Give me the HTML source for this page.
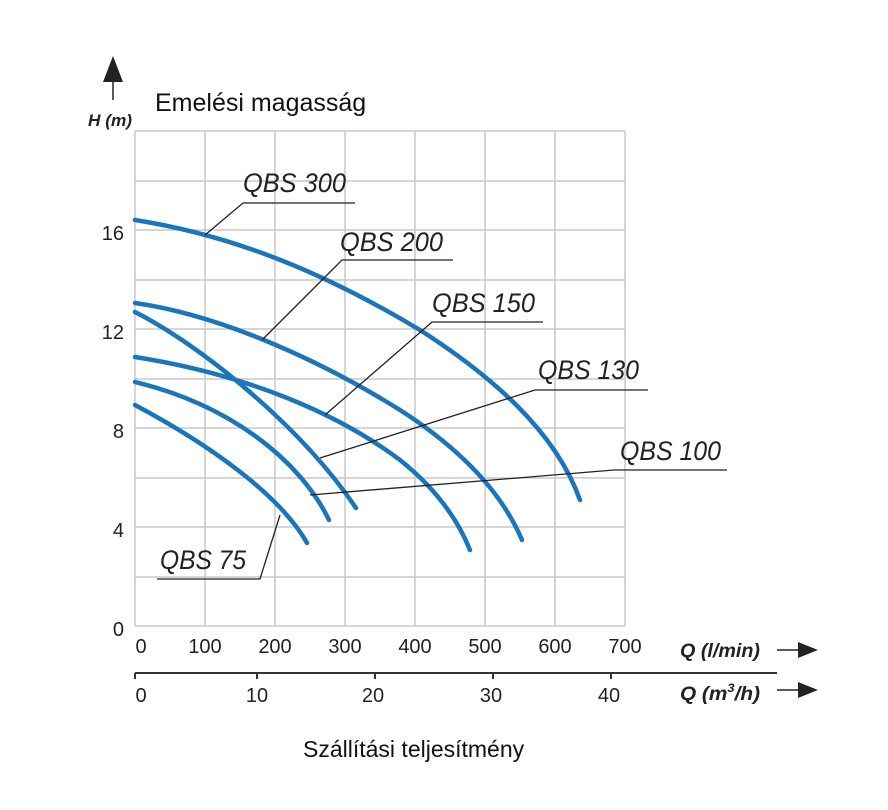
<!DOCTYPE html>
<html><head><meta charset="utf-8"><style>body{margin:0;background:#fff}svg{display:block}</style></head>
<body>
<svg width="888" height="810" viewBox="0 0 888 810" xmlns="http://www.w3.org/2000/svg" font-family="Liberation Sans, sans-serif">
<g stroke="#c8c8c8" stroke-width="1.5" fill="none">
<path d="M135 131V626M205 131V626M275 131V626M345 131V626M415 131V626M485 131V626M555 131V626M625 131V626"/>
<path d="M135 131H625M135 181H625M135 230H625M135 280H625M135 329H625M135 379H625M135 428H625M135 478H625M135 527H625M135 577H625M135 626H625"/>
</g>
<g fill="#222" font-size="20">
<text x="124" y="240" text-anchor="end">16</text>
<text x="124" y="339" text-anchor="end">12</text>
<text x="124" y="438" text-anchor="end">8</text>
<text x="124" y="537" text-anchor="end">4</text>
<text x="124" y="636" text-anchor="end">0</text>
</g>
<g fill="#222" font-size="20" text-anchor="middle">
<text x="141" y="653">0</text><text x="205" y="653">100</text><text x="275" y="653">200</text><text x="345" y="653">300</text><text x="415" y="653">400</text><text x="485" y="653">500</text><text x="555" y="653">600</text><text x="625" y="653">700</text>
<text x="141" y="702">0</text><text x="257" y="702">10</text><text x="373" y="702">20</text><text x="491" y="702">30</text><text x="609" y="702">40</text>
</g>
<path d="M135 673H777M135 673v6M257 673v6M375 673v6M493 673v6M611 673v6" stroke="#333" stroke-width="2" fill="none"/>
<g font-style="italic" font-weight="bold" font-size="19" fill="#222">
<text x="680" y="657" textLength="80" lengthAdjust="spacingAndGlyphs">Q (l/min)</text>
<text x="680" y="700" textLength="80" lengthAdjust="spacingAndGlyphs">Q (m<tspan font-size="12" dy="-8">3</tspan><tspan dy="8">/h)</tspan></text>
<text x="88" y="126" font-size="17" textLength="44" lengthAdjust="spacingAndGlyphs">H (m)</text>
</g>
<g stroke="#222" stroke-width="1.5"><path d="M777 650H800M777 690H800"/><path d="M113 100V78"/></g>
<g fill="#222"><path d="M798 642L818 650L798 658ZM798 682L818 690L798 698Z"/><path d="M103 82L113 56L123 82Z"/></g>
<text x="155" y="111" font-size="25" fill="#111">Emelési magasság</text>
<text x="303" y="757" font-size="23" fill="#111">Szállítási teljesítmény</text>
<g stroke="#1b75bb" stroke-width="4.5" fill="none" stroke-linecap="round">
<path d="M135 220C230 235 320 270 420 330C490 375 555 430 580 500"/>
<path d="M135 303C220 315 320 360 400 410C470 455 505 500 522 540"/>
<path d="M135 357C250 375 340 415 400 460C440 492 460 525 470 550"/>
<path d="M135 312C200 345 300 425 356 508"/>
<path d="M135 382C230 405 300 460 329 520"/>
<path d="M135 405C210 445 280 495 307 543"/>
</g>
<g stroke="#222" stroke-width="1.3" fill="none">
<path d="M205 235L243 203H355"/>
<path d="M262 340L342 260H453"/>
<path d="M325 415L432 322H543"/>
<path d="M320 458L535 390H648"/>
<path d="M310 495L614 470H727"/>
<path d="M280 515L260 579H157"/>
</g>
<g font-style="italic" font-size="27" fill="#222">
<text x="243" y="192" textLength="103" lengthAdjust="spacingAndGlyphs">QBS 300</text>
<text x="340" y="251" textLength="103" lengthAdjust="spacingAndGlyphs">QBS 200</text>
<text x="432" y="312" textLength="103" lengthAdjust="spacingAndGlyphs">QBS 150</text>
<text x="538" y="379" textLength="101" lengthAdjust="spacingAndGlyphs">QBS 130</text>
<text x="620" y="460" textLength="101" lengthAdjust="spacingAndGlyphs">QBS 100</text>
<text x="160" y="569" textLength="86" lengthAdjust="spacingAndGlyphs">QBS 75</text>
</g>
</svg>
</body></html>
